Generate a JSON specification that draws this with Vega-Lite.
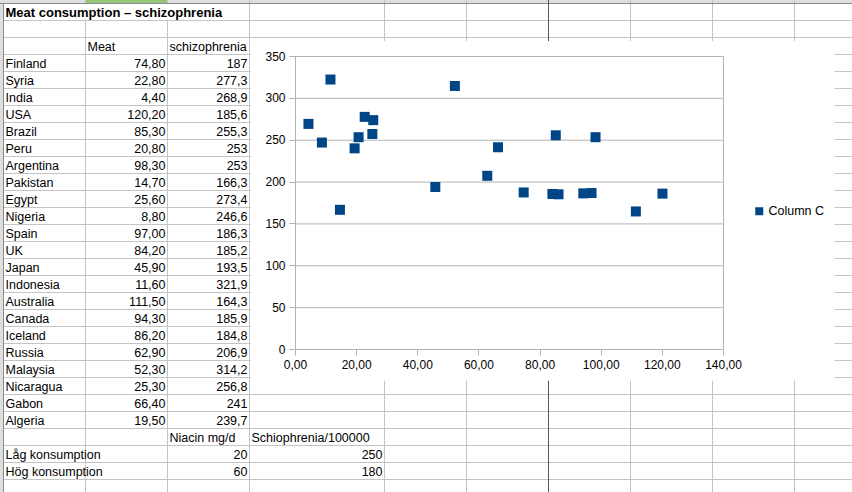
{
  "$schema": "https://vega.github.io/schema/vega-lite/v6.json",
  "width": 428,
  "height": 293,
  "autosize": {"type": "none"},
  "padding": {"left": 295, "top": 56, "right": 129, "bottom": 143},
  "background": "white",
  "config": {
    "view": {"stroke": null},
    "font": "Liberation Sans",
    "locale": {"number": {"decimal": ",", "thousands": " ", "grouping": [3], "currency": ["", " kr"]}}
  },
  "datasets": {
    "countries": [
      {"row": 4, "country": "Finland", "meat": 74.8, "schiz": 187},
      {"row": 5, "country": "Syria", "meat": 22.8, "schiz": 277.3},
      {"row": 6, "country": "India", "meat": 4.4, "schiz": 268.9},
      {"row": 7, "country": "USA", "meat": 120.2, "schiz": 185.6},
      {"row": 8, "country": "Brazil", "meat": 85.3, "schiz": 255.3},
      {"row": 9, "country": "Peru", "meat": 20.8, "schiz": 253},
      {"row": 10, "country": "Argentina", "meat": 98.3, "schiz": 253},
      {"row": 11, "country": "Pakistan", "meat": 14.7, "schiz": 166.3},
      {"row": 12, "country": "Egypt", "meat": 25.6, "schiz": 273.4},
      {"row": 13, "country": "Nigeria", "meat": 8.8, "schiz": 246.6},
      {"row": 14, "country": "Spain", "meat": 97.0, "schiz": 186.3},
      {"row": 15, "country": "UK", "meat": 84.2, "schiz": 185.2},
      {"row": 16, "country": "Japan", "meat": 45.9, "schiz": 193.5},
      {"row": 17, "country": "Indonesia", "meat": 11.6, "schiz": 321.9},
      {"row": 18, "country": "Australia", "meat": 111.5, "schiz": 164.3},
      {"row": 19, "country": "Canada", "meat": 94.3, "schiz": 185.9},
      {"row": 20, "country": "Iceland", "meat": 86.2, "schiz": 184.8},
      {"row": 21, "country": "Russia", "meat": 62.9, "schiz": 206.9},
      {"row": 22, "country": "Malaysia", "meat": 52.3, "schiz": 314.2},
      {"row": 23, "country": "Nicaragua", "meat": 25.3, "schiz": 256.8},
      {"row": 24, "country": "Gabon", "meat": 66.4, "schiz": 241},
      {"row": 25, "country": "Algeria", "meat": 19.5, "schiz": 239.7}
    ],
    "headers": [
      {"row": 1, "col": 1, "text": "Meat consumption – schizophrenia"},
      {"row": 3, "col": 2, "text": "Meat"},
      {"row": 3, "col": 3, "text": "schizophrenia"},
      {"row": 26, "col": 3, "text": "Niacin mg/d"},
      {"row": 26, "col": 4, "text": "Schiophrenia/100000"}
    ],
    "consumption": [
      {"row": 27, "label": "Låg konsumption", "niacin": 20, "schiz": 250},
      {"row": 28, "label": "Hög konsumption", "niacin": 60, "schiz": 180}
    ],
    "gridRows": [
      {"line": 1}, {"line": 2}, {"line": 3}, {"line": 4}, {"line": 5}, {"line": 6}, {"line": 7}, {"line": 8}, {"line": 9}, {"line": 10},
      {"line": 11}, {"line": 12}, {"line": 13}, {"line": 14}, {"line": 15}, {"line": 16}, {"line": 17}, {"line": 18}, {"line": 19}, {"line": 20},
      {"line": 21}, {"line": 22}, {"line": 23}, {"line": 24}, {"line": 25}, {"line": 26}, {"line": 27}, {"line": 28}, {"line": 29}
    ],
    "gridCols": [
      {"col": 2}, {"col": 3}, {"col": 4}, {"col": 5}, {"col": 6}, {"col": 8}, {"col": 9}, {"col": 10}, {"col": 11}
    ],
    "ticks": [
      {"value": 50}, {"value": 100}, {"value": 150}, {"value": 200}, {"value": 250}, {"value": 300}, {"value": 350}
    ]
  },
  "layer": [
    {
      "layer": [
        {
          "data": {"values": [{}]},
          "mark": {"type": "rect", "color": "#dedede"},
          "encoding": {
            "x": {"datum": 0.9, "type": "quantitative", "axis": null, "scale": {"domain": [1, 4, 5, 11], "range": [-291.5, -45.5, 89.5, 581.5], "zero": false, "nice": false}},
            "x2": {"datum": 11.5},
            "y": {"datum": -0.4, "type": "quantitative", "axis": null, "scale": {"domain": [0, 29], "range": [-52.5, 440.5], "zero": false, "nice": false}},
            "y2": {"datum": 0}
          }
        },
        {
          "data": {"values": [{}]},
          "mark": {"type": "rect", "color": "#dedede"},
          "encoding": {
            "x": {"datum": 0.9, "type": "quantitative", "axis": null, "scale": {"domain": [1, 4, 5, 11], "range": [-291.5, -45.5, 89.5, 581.5], "zero": false, "nice": false}},
            "x2": {"datum": 1},
            "y": {"datum": -0.4, "type": "quantitative", "axis": null, "scale": {"domain": [0, 29], "range": [-52.5, 440.5], "zero": false, "nice": false}},
            "y2": {"datum": 29.5}
          }
        },
        {
          "data": {"values": [{}]},
          "mark": {"type": "rect", "color": "#97c477"},
          "encoding": {
            "x": {"datum": 2, "type": "quantitative", "axis": null, "scale": {"domain": [1, 4, 5, 11], "range": [-291.5, -45.5, 89.5, 581.5], "zero": false, "nice": false}},
            "x2": {"datum": 3},
            "y": {"datum": -0.4, "type": "quantitative", "axis": null, "scale": {"domain": [0, 29], "range": [-52.5, 440.5], "zero": false, "nice": false}},
            "y2": {"datum": 0}
          }
        },
        {
          "data": {"name": "gridRows"},
          "mark": {"type": "rule", "color": "#c4c4c4", "strokeWidth": 1},
          "encoding": {
            "y": {"field": "line", "type": "quantitative", "axis": null, "scale": {"domain": [0, 29], "range": [-52.5, 440.5], "zero": false, "nice": false}},
            "x": {"datum": 1, "type": "quantitative", "axis": null, "scale": {"domain": [1, 4, 5, 11], "range": [-291.5, -45.5, 89.5, 581.5], "zero": false, "nice": false}},
            "x2": {"datum": 11.5}
          }
        },
        {
          "data": {"name": "gridCols"},
          "mark": {"type": "rule", "color": "#c4c4c4", "strokeWidth": 1},
          "encoding": {
            "x": {"field": "col", "type": "quantitative", "axis": null, "scale": {"domain": [1, 4, 5, 11], "range": [-291.5, -45.5, 89.5, 581.5], "zero": false, "nice": false}},
            "y": {"datum": -0.4, "type": "quantitative", "axis": null, "scale": {"domain": [0, 29], "range": [-52.5, 440.5], "zero": false, "nice": false}},
            "y2": {"datum": 29.5}
          }
        },
        {
          "data": {"values": [{}]},
          "mark": {"type": "rule", "color": "#8a8a8a", "strokeWidth": 1},
          "encoding": {
            "y": {"datum": 0, "type": "quantitative", "axis": null, "scale": {"domain": [0, 29], "range": [-52.5, 440.5], "zero": false, "nice": false}},
            "x": {"datum": 0.9, "type": "quantitative", "axis": null, "scale": {"domain": [1, 4, 5, 11], "range": [-291.5, -45.5, 89.5, 581.5], "zero": false, "nice": false}},
            "x2": {"datum": 11.5}
          }
        },
        {
          "data": {"values": [{}]},
          "mark": {"type": "rule", "color": "#8a8a8a", "strokeWidth": 1},
          "encoding": {
            "x": {"datum": 1, "type": "quantitative", "axis": null, "scale": {"domain": [1, 4, 5, 11], "range": [-291.5, -45.5, 89.5, 581.5], "zero": false, "nice": false}},
            "y": {"datum": 0, "type": "quantitative", "axis": null, "scale": {"domain": [0, 29], "range": [-52.5, 440.5], "zero": false, "nice": false}},
            "y2": {"datum": 29.5}
          }
        },
        {
          "data": {"values": [{}]},
          "mark": {"type": "rule", "color": "#555555", "strokeWidth": 1},
          "encoding": {
            "x": {"datum": 7, "type": "quantitative", "axis": null, "scale": {"domain": [1, 4, 5, 11], "range": [-291.5, -45.5, 89.5, 581.5], "zero": false, "nice": false}},
            "y": {"datum": -0.4, "type": "quantitative", "axis": null, "scale": {"domain": [0, 29], "range": [-52.5, 440.5], "zero": false, "nice": false}},
            "y2": {"datum": 29.5}
          }
        },
        {
          "data": {"values": [{}]},
          "mark": {"type": "rect", "color": "#ffffff"},
          "encoding": {
            "x": {"datum": 1.5, "type": "quantitative", "axis": null, "scale": {"domain": [1, 4, 5, 11], "range": [-291.5, -45.5, 89.5, 581.5], "zero": false, "nice": false}},
            "x2": {"datum": 3.5},
            "y": {"datum": 0.06, "type": "quantitative", "axis": null, "scale": {"domain": [0, 29], "range": [-52.5, 440.5], "zero": false, "nice": false}},
            "y2": {"datum": 0.94}
          }
        },
        {
          "data": {"values": [{}]},
          "mark": {"type": "rect", "color": "#ffffff"},
          "encoding": {
            "x": {"datum": 4.01, "type": "quantitative", "axis": null, "scale": {"domain": [1, 4, 5, 11], "range": [-291.5, -45.5, 89.5, 581.5], "zero": false, "nice": false}},
            "x2": {"datum": 10.49},
            "y": {"datum": 2.21, "type": "quantitative", "axis": null, "scale": {"domain": [0, 29], "range": [-52.5, 440.5], "zero": false, "nice": false}},
            "y2": {"datum": 22.19}
          }
        },
        {
          "data": {"name": "headers"},
          "transform": [{"filter": "datum.row != 1"}],
          "mark": {"type": "text", "align": "left", "baseline": "alphabetic", "dx": 2, "dy": -3.5, "fontSize": 12.5, "font": "Liberation Sans", "color": "#000000"},
          "encoding": {
            "x": {"field": "col", "type": "quantitative", "axis": null, "scale": {"domain": [1, 4, 5, 11], "range": [-291.5, -45.5, 89.5, 581.5], "zero": false, "nice": false}},
            "y": {"field": "row", "type": "quantitative", "axis": null, "scale": {"domain": [0, 29], "range": [-52.5, 440.5], "zero": false, "nice": false}},
            "text": {"field": "text"}
          }
        },
        {
          "data": {"name": "headers"},
          "transform": [{"filter": "datum.row == 1"}],
          "mark": {"type": "text", "align": "left", "baseline": "alphabetic", "dx": 2, "dy": -3.5, "fontSize": 13, "fontWeight": "bold", "font": "Liberation Sans", "color": "#000000"},
          "encoding": {
            "x": {"field": "col", "type": "quantitative", "axis": null, "scale": {"domain": [1, 4, 5, 11], "range": [-291.5, -45.5, 89.5, 581.5], "zero": false, "nice": false}},
            "y": {"field": "row", "type": "quantitative", "axis": null, "scale": {"domain": [0, 29], "range": [-52.5, 440.5], "zero": false, "nice": false}},
            "text": {"field": "text"}
          }
        },
        {
          "data": {"name": "countries"},
          "mark": {"type": "text", "align": "left", "baseline": "alphabetic", "dx": 2, "dy": -3.5, "fontSize": 12.5, "font": "Liberation Sans", "color": "#000000"},
          "encoding": {
            "x": {"datum": 1, "type": "quantitative", "axis": null, "scale": {"domain": [1, 4, 5, 11], "range": [-291.5, -45.5, 89.5, 581.5], "zero": false, "nice": false}},
            "y": {"field": "row", "type": "quantitative", "axis": null, "scale": {"domain": [0, 29], "range": [-52.5, 440.5], "zero": false, "nice": false}},
            "text": {"field": "country"}
          }
        },
        {
          "data": {"name": "countries"},
          "mark": {"type": "text", "align": "right", "baseline": "alphabetic", "dx": -2, "dy": -3.5, "fontSize": 12.5, "font": "Liberation Sans", "color": "#000000"},
          "encoding": {
            "x": {"datum": 3, "type": "quantitative", "axis": null, "scale": {"domain": [1, 4, 5, 11], "range": [-291.5, -45.5, 89.5, 581.5], "zero": false, "nice": false}},
            "y": {"field": "row", "type": "quantitative", "axis": null, "scale": {"domain": [0, 29], "range": [-52.5, 440.5], "zero": false, "nice": false}},
            "text": {"field": "meat", "type": "quantitative", "format": ".2f"}
          }
        },
        {
          "data": {"name": "countries"},
          "mark": {"type": "text", "align": "right", "baseline": "alphabetic", "dx": -2, "dy": -3.5, "fontSize": 12.5, "font": "Liberation Sans", "color": "#000000"},
          "encoding": {
            "x": {"datum": 4, "type": "quantitative", "axis": null, "scale": {"domain": [1, 4, 5, 11], "range": [-291.5, -45.5, 89.5, 581.5], "zero": false, "nice": false}},
            "y": {"field": "row", "type": "quantitative", "axis": null, "scale": {"domain": [0, 29], "range": [-52.5, 440.5], "zero": false, "nice": false}},
            "text": {"field": "schiz", "type": "quantitative", "format": "~f"}
          }
        },
        {
          "data": {"name": "consumption"},
          "mark": {"type": "text", "align": "left", "baseline": "alphabetic", "dx": 2, "dy": -3.5, "fontSize": 12.5, "font": "Liberation Sans", "color": "#000000"},
          "encoding": {
            "x": {"datum": 1, "type": "quantitative", "axis": null, "scale": {"domain": [1, 4, 5, 11], "range": [-291.5, -45.5, 89.5, 581.5], "zero": false, "nice": false}},
            "y": {"field": "row", "type": "quantitative", "axis": null, "scale": {"domain": [0, 29], "range": [-52.5, 440.5], "zero": false, "nice": false}},
            "text": {"field": "label"}
          }
        },
        {
          "data": {"name": "consumption"},
          "mark": {"type": "text", "align": "right", "baseline": "alphabetic", "dx": -2, "dy": -3.5, "fontSize": 12.5, "font": "Liberation Sans", "color": "#000000"},
          "encoding": {
            "x": {"datum": 4, "type": "quantitative", "axis": null, "scale": {"domain": [1, 4, 5, 11], "range": [-291.5, -45.5, 89.5, 581.5], "zero": false, "nice": false}},
            "y": {"field": "row", "type": "quantitative", "axis": null, "scale": {"domain": [0, 29], "range": [-52.5, 440.5], "zero": false, "nice": false}},
            "text": {"field": "niacin", "type": "quantitative", "format": "~f"}
          }
        },
        {
          "data": {"name": "consumption"},
          "mark": {"type": "text", "align": "right", "baseline": "alphabetic", "dx": -2, "dy": -3.5, "fontSize": 12.5, "font": "Liberation Sans", "color": "#000000"},
          "encoding": {
            "x": {"datum": 5, "type": "quantitative", "axis": null, "scale": {"domain": [1, 4, 5, 11], "range": [-291.5, -45.5, 89.5, 581.5], "zero": false, "nice": false}},
            "y": {"field": "row", "type": "quantitative", "axis": null, "scale": {"domain": [0, 29], "range": [-52.5, 440.5], "zero": false, "nice": false}},
            "text": {"field": "schiz", "type": "quantitative", "format": "~f"}
          }
        }
      ]
    },
    {
      "layer": [
        {
          "data": {"name": "ticks"},
          "mark": {"type": "rule", "color": "#b3b3b3", "strokeWidth": 1, "yOffset": 0.5},
          "encoding": {
            "y": {"field": "value", "type": "quantitative", "scale": {"domain": [0, 350], "nice": false, "zero": false},
                  "axis": {"orient": "left", "values": [0, 50, 100, 150, 200, 250, 300, 350], "format": "d", "grid": false, "title": null, "domainColor": "#b3b3b3", "tickColor": "#b3b3b3", "tickSize": 6, "labelPadding": 4, "labelFontSize": 12, "labelFont": "Liberation Sans", "labelColor": "#000000", "labelFlush": false, "labelOverlap": false, "zindex": 1}},
            "x": {"datum": 0, "type": "quantitative", "scale": {"domain": [0, 140], "nice": false, "zero": false},
                  "axis": {"orient": "bottom", "values": [0, 20, 40, 60, 80, 100, 120, 140], "format": ".2f", "grid": false, "title": null, "domainColor": "#b3b3b3", "tickColor": "#b3b3b3", "tickSize": 6, "labelPadding": 4, "labelFontSize": 12, "labelFont": "Liberation Sans", "labelColor": "#000000", "labelFlush": false, "labelOverlap": false, "zindex": 1}},
            "x2": {"datum": 140}
          }
        },
        {
          "data": {"values": [{}]},
          "mark": {"type": "rule", "color": "#b3b3b3", "strokeWidth": 1, "xOffset": 0.5},
          "encoding": {
            "x": {"datum": 140, "type": "quantitative", "scale": {"domain": [0, 140], "nice": false, "zero": false},
                  "axis": {"orient": "bottom", "values": [0, 20, 40, 60, 80, 100, 120, 140], "format": ".2f", "grid": false, "title": null, "domainColor": "#b3b3b3", "tickColor": "#b3b3b3", "tickSize": 6, "labelPadding": 4, "labelFontSize": 12, "labelFont": "Liberation Sans", "labelColor": "#000000", "labelFlush": false, "labelOverlap": false, "zindex": 1}},
            "y": {"datum": 0, "type": "quantitative", "scale": {"domain": [0, 350], "nice": false, "zero": false},
                  "axis": {"orient": "left", "values": [0, 50, 100, 150, 200, 250, 300, 350], "format": "d", "grid": false, "title": null, "domainColor": "#b3b3b3", "tickColor": "#b3b3b3", "tickSize": 6, "labelPadding": 4, "labelFontSize": 12, "labelFont": "Liberation Sans", "labelColor": "#000000", "labelFlush": false, "labelOverlap": false, "zindex": 1}},
            "y2": {"datum": 350}
          }
        },
        {
          "data": {"name": "countries"},
          "mark": {"type": "square", "size": 100, "filled": true, "opacity": 1},
          "encoding": {
            "x": {"field": "meat", "type": "quantitative", "scale": {"domain": [0, 140], "nice": false, "zero": false},
                  "axis": {"orient": "bottom", "values": [0, 20, 40, 60, 80, 100, 120, 140], "format": ".2f", "grid": false, "title": null, "domainColor": "#b3b3b3", "tickColor": "#b3b3b3", "tickSize": 6, "labelPadding": 4, "labelFontSize": 12, "labelFont": "Liberation Sans", "labelColor": "#000000", "labelFlush": false, "labelOverlap": false, "zindex": 1}},
            "y": {"field": "schiz", "type": "quantitative", "scale": {"domain": [0, 350], "nice": false, "zero": false},
                  "axis": {"orient": "left", "values": [0, 50, 100, 150, 200, 250, 300, 350], "format": "d", "grid": false, "title": null, "domainColor": "#b3b3b3", "tickColor": "#b3b3b3", "tickSize": 6, "labelPadding": 4, "labelFontSize": 12, "labelFont": "Liberation Sans", "labelColor": "#000000", "labelFlush": false, "labelOverlap": false, "zindex": 1}},
            "color": {"datum": "Column C", "type": "nominal", "scale": {"range": ["#004586"]},
                      "legend": {"orient": "none", "legendX": 458, "legendY": 149, "title": null, "symbolType": "square", "symbolSize": 64, "symbolStrokeWidth": 0, "symbolOpacity": 1, "labelFontSize": 12.5, "labelFont": "Liberation Sans", "labelColor": "#000000", "labelOffset": 3, "padding": 0, "zindex": 1}}
          }
        }
      ]
    }
  ],
  "resolve": {"scale": {"x": "independent", "y": "independent"}}
}
